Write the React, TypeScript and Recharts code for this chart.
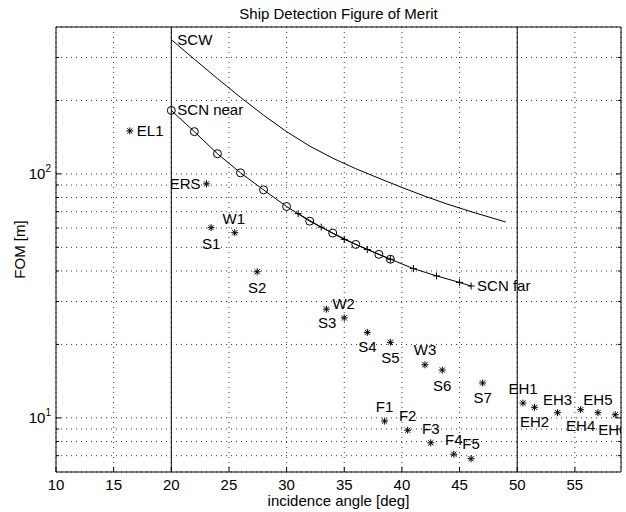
import React from "react";
import {
  CartesianGrid,
  ReferenceLine,
  Scatter,
  ScatterChart,
  XAxis,
  YAxis,
} from "recharts";

// SCW swath (line only)
const scwAngle = [20, 22, 24, 26, 28, 30, 32, 34, 36, 38, 40, 42, 44, 46, 49];
const scwFom = [355, 295, 246, 206, 174, 149, 130, 116, 105, 96, 88, 81, 75, 70, 63.5];

// SCN near (circles)
const scnNearAngle = [20, 22, 24, 26, 28, 30, 32, 34, 36, 38, 39];
const scnNearFom = [182, 149, 121, 101, 86, 73.5, 64, 57.2, 51.4, 46.8, 44.7];

// SCN far (plus)
const scnFarAngle = [31, 33, 35, 37, 39, 41, 43, 45, 46];
const scnFarFom = [68.7, 60.5, 53.9, 49, 44.7, 40.9, 38.2, 35.9, 34.7];

// single beam modes (asterisks)
const modeNames = [
  "EL1", "ERS", "W1", "S1", "S2", "W2", "S3", "S4", "S5", "W3", "S6", "S7",
  "F1", "F2", "F3", "F4", "F5", "EH1", "EH2", "EH3", "EH4", "EH5", "EH6",
];
const modeAngle = [
  16.4, 23.05, 25.5, 23.45, 27.45, 33.45, 35, 37, 39, 42, 43.5, 47,
  38.5, 40.5, 42.5, 44.5, 46, 50.5, 51.5, 53.5, 55.5, 57, 58.5,
];
const modeFom = [
  150, 91, 57.4, 60.2, 39.7, 27.9, 25.7, 22.4, 20.4, 16.5, 15.7, 13.9,
  9.7, 8.9, 7.9, 7.1, 6.8, 11.5, 11.05, 10.5, 10.8, 10.5, 10.3,
];

const xTicks = [10, 15, 20, 25, 30, 35, 40, 45, 50, 55];
const yTicks = [7, 8, 9, 10, 20, 30, 40, 50, 60, 70, 80, 90, 100, 200, 300];

const FONT = "'Liberation Sans', Arial, Helvetica, sans-serif";
const FS = 15;

// where each mode label sits relative to its marker
const labelPlace: Record<string, [number, number, "start" | "middle" | "end"]> = {
  EL1: [7, 5, "start"],
  ERS: [-6, 5, "end"],
  W1: [-1, -9, "middle"],
  S1: [0, 21, "middle"],
  S2: [0, 21, "middle"],
  W2: [6, 0, "start"],
  S3: [-8, 10, "end"],
  S4: [0, 20, "middle"],
  S5: [0, 21, "middle"],
  W3: [0, -10, "middle"],
  S6: [0, 21, "middle"],
  S7: [0, 20, "middle"],
  F1: [0, -9, "middle"],
  F2: [0, -9, "middle"],
  F3: [0, -9, "middle"],
  F4: [0, -9, "middle"],
  F5: [0, -10, "middle"],
  EH1: [0, -9, "middle"],
  EH2: [0, 20, "middle"],
  EH3: [0, -8, "middle"],
  EH4: [0, 21, "middle"],
  EH5: [0, -8, "middle"],
  EH6: [-17, 20, "start"],
};

const zip = (xs: number[], ys: number[], first?: string, last?: string) =>
  xs.map((x, i) => ({
    x,
    y: ys[i],
    tag: i === 0 ? first : i === xs.length - 1 ? last : undefined,
  }));

const scwData = zip(scwAngle, scwFom, "SCW");
const scnNearData = zip(scnNearAngle, scnNearFom, "SCN near");
const scnFarData = zip(scnFarAngle, scnFarFom, undefined, "SCN far");
const modeData = modeNames.map((name, i) => ({ x: modeAngle[i], y: modeFom[i], name }));

const txt = (x: number, y: number, s: string, anchor = "start") => (
  <text x={x} y={y} textAnchor={anchor} fontSize={FS} fontFamily={FONT} fill="#000">
    {s}
  </text>
);

const LineTag = ({ cx, cy, payload }: any) =>
  payload.tag ? txt(cx + 6, cy + 5, payload.tag) : <g />;

const CircleMark = ({ cx, cy, payload }: any) => (
  <g>
    <circle cx={cx} cy={cy} r={4} fill="none" stroke="#000" strokeWidth={1} />
    {payload.tag && txt(cx + 6, cy + 5, payload.tag)}
  </g>
);

const PlusMark = ({ cx, cy, payload }: any) => (
  <g stroke="#000" strokeWidth={1}>
    <line x1={cx - 3.5} x2={cx + 3.5} y1={cy} y2={cy} />
    <line x1={cx} x2={cx} y1={cy - 3.5} y2={cy + 3.5} />
    {payload.tag && <g stroke="none">{txt(cx + 6, cy + 5, payload.tag)}</g>}
  </g>
);

const StarMark = ({ cx, cy, payload }: any) => {
  const [dx, dy, anchor] = labelPlace[payload.name] ?? [6, 5, "start"];
  const d = 2.6;
  return (
    <g>
      <g stroke="#000" strokeWidth={1}>
        <line x1={cx - 3.5} x2={cx + 3.5} y1={cy} y2={cy} />
        <line x1={cx} x2={cx} y1={cy - 3.5} y2={cy + 3.5} />
        <line x1={cx - d} x2={cx + d} y1={cy - d} y2={cy + d} />
        <line x1={cx - d} x2={cx + d} y1={cy + d} y2={cy - d} />
      </g>
      {txt(cx + dx, cy + dy, payload.name, anchor)}
    </g>
  );
};

const XTick = ({ x, y, payload, top }: any) => (
  <g>
    <line x1={x} x2={x} y1={y} y2={top ? y + 5 : y - 5} stroke="#000" />
    {!top && (
      <text x={x} y={y + 18} textAnchor="middle" fontSize={FS} fontFamily={FONT} fill="#000">
        {payload.value}
      </text>
    )}
  </g>
);

const YTick = ({ x, y, payload, right }: any) => {
  const v = payload.value;
  const major = v === 10 || v === 100;
  const len = major ? 5 : 3;
  return (
    <g>
      <line x1={x} x2={right ? x - len : x + len} y1={y} y2={y} stroke="#000" />
      {!right && major && (
        <text x={x - 5} y={y + 5} textAnchor="end" fontSize={FS} fontFamily={FONT} fill="#000">
          10
          <tspan dy={-7} fontSize={10}>
            {v === 10 ? "1" : "2"}
          </tspan>
        </text>
      )}
    </g>
  );
};

export default function App() {
  return (
    <div style={{ position: "absolute", left: 0, top: 0, width: 626, height: 512, background: "#fff" }}>
      <ScatterChart width={626} height={512} margin={{ top: 0, right: 0, bottom: 0, left: 0 }}>
        <CartesianGrid stroke="#333" strokeDasharray="1 4" />
        <XAxis
          type="number"
          dataKey="x"
          domain={[10, 59]}
          ticks={xTicks}
          interval={0}
          allowDataOverflow
          height={40}
          tickSize={0}
          tickMargin={0}
          tickLine={false}
          axisLine={{ stroke: "#000" }}
          tick={(p: any) => <XTick {...p} />}
        />
        <XAxis
          xAxisId="top"
          orientation="top"
          type="number"
          domain={[10, 59]}
          ticks={xTicks}
          interval={0}
          allowDataOverflow
          height={27}
          tickSize={0}
          tickMargin={0}
          tickLine={false}
          axisLine={{ stroke: "#000" }}
          tick={(p: any) => <XTick {...p} top />}
        />
        <YAxis
          type="number"
          dataKey="y"
          scale="log"
          domain={[6, 400]}
          ticks={yTicks}
          interval={0}
          allowDataOverflow
          width={56}
          tickSize={0}
          tickMargin={0}
          tickLine={false}
          axisLine={{ stroke: "#000" }}
          tick={(p: any) => <YTick {...p} />}
        />
        <YAxis
          yAxisId="right"
          orientation="right"
          type="number"
          scale="log"
          domain={[6, 400]}
          ticks={yTicks}
          interval={0}
          allowDataOverflow
          width={5}
          tickSize={0}
          tickMargin={0}
          tickLine={false}
          axisLine={{ stroke: "#000" }}
          tick={(p: any) => <YTick {...p} right />}
        />
        <ReferenceLine x={20} stroke="#000" strokeWidth={1} />
        <ReferenceLine x={50} stroke="#000" strokeWidth={1} />
        <Scatter
          data={scwData}
          line={{ stroke: "#000", strokeWidth: 1 }}
          lineType="joint"
          shape={(p: any) => <LineTag {...p} />}
          isAnimationActive={false}
        />
        <Scatter
          data={scnNearData}
          line={{ stroke: "#000", strokeWidth: 1 }}
          lineType="joint"
          shape={(p: any) => <CircleMark {...p} />}
          isAnimationActive={false}
        />
        <Scatter
          data={scnFarData}
          line={{ stroke: "#000", strokeWidth: 1 }}
          lineType="joint"
          shape={(p: any) => <PlusMark {...p} />}
          isAnimationActive={false}
        />
        <Scatter
          data={modeData}
          shape={(p: any) => <StarMark {...p} />}
          isAnimationActive={false}
        />
      </ScatterChart>
      <svg
        width={626}
        height={512}
        style={{ position: "absolute", left: 0, top: 0, pointerEvents: "none" }}
      >
        <text x={338.5} y={19} textAnchor="middle" fontSize={FS} fontFamily={FONT}>
          Ship Detection Figure of Merit
        </text>
        <text x={338.5} y={506} textAnchor="middle" fontSize={FS} fontFamily={FONT}>
          incidence angle [deg]
        </text>
        <text transform="translate(25,249.5) rotate(-90)" textAnchor="middle" fontSize={FS} fontFamily={FONT}>
          FOM [m]
        </text>
      </svg>
    </div>
  );
}
